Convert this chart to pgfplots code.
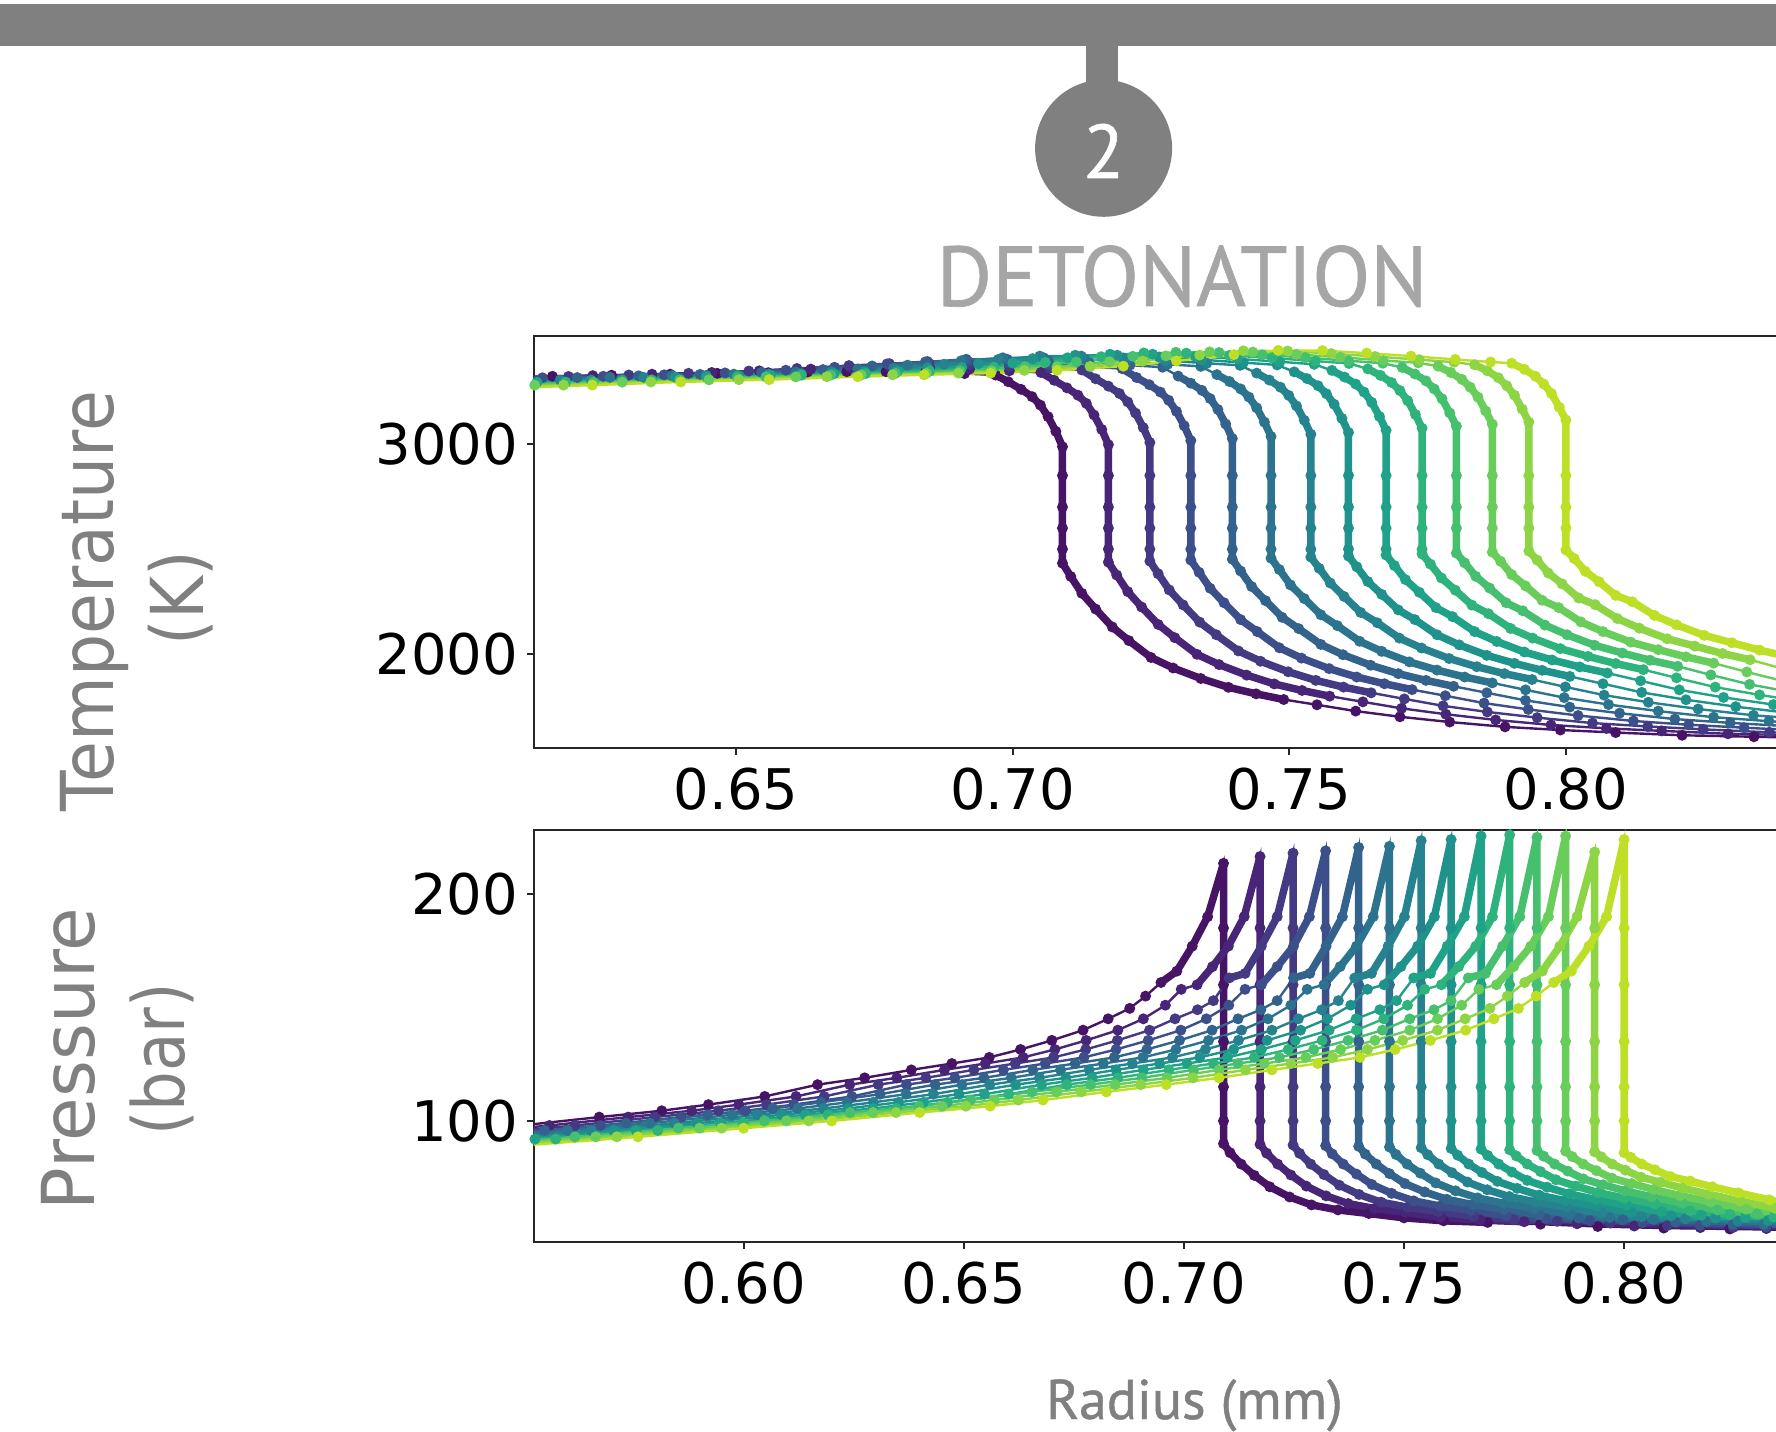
\documentclass[border=0pt]{standalone}
\usepackage{fontspec}
\setmainfont{DejaVu Sans}
\newfontfamily\din[FakeBold=0.8]{PT Sans}
\usepackage{pgfplots}
\usepackage{pgfplotstable}
\pgfplotsset{compat=1.18}
\definecolor{c0}{HTML}{471365}\definecolor{c1}{HTML}{482576}\definecolor{c2}{HTML}{443A83}\definecolor{c3}{HTML}{3C4F8A}
\definecolor{c4}{HTML}{33628D}\definecolor{c5}{HTML}{2C738E}\definecolor{c6}{HTML}{26828E}\definecolor{c7}{HTML}{20928C}
\definecolor{c8}{HTML}{1FA287}\definecolor{c9}{HTML}{2EB37C}\definecolor{c10}{HTML}{46C06F}\definecolor{c11}{HTML}{69CD5B}
\definecolor{c12}{HTML}{8DD544}\definecolor{c13}{HTML}{BDDF26}
\newcommand\rd[2]{\pgfplotstableread[row sep=\\]{x y\\#1}#2}
% Temperature
\rd{.6062 3316\\.6168 3322\\.6275 3327\\.6381 3332\\.6466 3336\\.6558 3339\\.6629 3342\\.67 3344\\.6771 3344\\.6842 3340\\.6913 3335\\.6969 3328\\.6992 3296\\.7015 3260\\.7035 3225\\.705 3185\\.7064 3130\\.7078 3060\\.709 2987\\.709 2850\\.709 2700\\.709 2600\\.709 2500\\.709 2433\\.7105 2370\\.7125 2290\\.715 2215\\.718 2130\\.721 2065\\.725 1985\\.729 1935\\.734 1885\\.739 1843\\.744 1812\\.749 1785\\.755 1760\\.762 1730\\.77 1703\\.779 1678\\.789 1655\\.799 1640\\.809 1628\\.821 1615\\.834 1608\\.841 1604\\}\Tz
\rd{.6025 3312\\.6133 3319\\.6241 3325\\.6348 3332\\.6456 3340\\.6542 3348\\.6635 3356\\.6707 3363\\.6778 3364\\.685 3362\\.6922 3356\\.6994 3348\\.7051 3340\\.7075 3303\\.7098 3267\\.7118 3232\\.7133 3193\\.7147 3138\\.7161 3069\\.7173 2997\\.7173 2850\\.7173 2700\\.7173 2600\\.7173 2500\\.7173 2438\\.7188 2377\\.7208 2298\\.7233 2225\\.7263 2142\\.7293 2079\\.7333 2000\\.7373 1951\\.7423 1901\\.7473 1859\\.7523 1828\\.7573 1801\\.7633 1774\\.7703 1743\\.7783 1715\\.7873 1688\\.7973 1664\\.8073 1648\\.8173 1636\\.8293 1622\\.8423 1615\\}\Ta
\rd{.5943 3301\\.6088 3314\\.6197 3321\\.6306 3328\\.6414 3336\\.6523 3347\\.661 3359\\.6704 3373\\.6777 3382\\.6849 3383\\.6922 3378\\.6994 3370\\.7067 3361\\.7125 3352\\.715 3310\\.7173 3275\\.7193 3240\\.7208 3200\\.7222 3147\\.7236 3078\\.7248 3007\\.7248 2850\\.7248 2700\\.7248 2600\\.7248 2500\\.7248 2443\\.7263 2383\\.7283 2306\\.7308 2235\\.7338 2153\\.7368 2093\\.7408 2016\\.7448 1967\\.7498 1917\\.7548 1876\\.7598 1844\\.7648 1817\\.7708 1788\\.7778 1755\\.7858 1726\\.7948 1699\\.8048 1673\\.8148 1657\\.8248 1643\\.8368 1629\\.8498 1621\\}\Tb
\rd{.6004 3302\\.615 3315\\.626 3322\\.637 3329\\.648 3338\\.659 3351\\.6678 3365\\.6773 3381\\.6846 3392\\.6919 3393\\.6993 3387\\.7066 3378\\.7139 3368\\.7198 3358\\.7224 3316\\.7247 3282\\.7267 3247\\.7282 3208\\.7296 3155\\.731 3087\\.7322 3016\\.7322 2850\\.7322 2700\\.7322 2600\\.7322 2500\\.7322 2448\\.7337 2390\\.7357 2314\\.7382 2245\\.7412 2165\\.7442 2108\\.7482 2031\\.7522 1982\\.7572 1932\\.7622 1892\\.7672 1860\\.7722 1832\\.7782 1803\\.7852 1768\\.7932 1738\\.8022 1709\\.8122 1683\\.8222 1665\\.8322 1651\\.8442 1636\\}\Tc
\rd{.6066 3303\\.6213 3316\\.6324 3324\\.6435 3331\\.6546 3341\\.6657 3354\\.6746 3371\\.6842 3390\\.6916 3403\\.699 3403\\.7064 3396\\.7138 3386\\.7212 3375\\.7271 3365\\.7299 3323\\.7322 3289\\.7342 3255\\.7357 3216\\.7371 3164\\.7385 3095\\.7397 3026\\.7397 2850\\.7397 2700\\.7397 2600\\.7397 2500\\.7397 2452\\.7412 2396\\.7432 2322\\.7457 2255\\.7487 2176\\.7517 2122\\.7557 2047\\.7597 1998\\.7647 1948\\.7697 1908\\.7747 1876\\.7797 1848\\.7857 1817\\.7927 1781\\.8007 1749\\.8097 1720\\.8197 1692\\.8297 1674\\.8397 1659\\}\Td
\rd{.6123 3303\\.6272 3317\\.6384 3325\\.6496 3332\\.6608 3342\\.672 3357\\.681 3375\\.6907 3396\\.6982 3410\\.7056 3410\\.7131 3402\\.7206 3391\\.728 3379\\.734 3369\\.7369 3330\\.7392 3297\\.7412 3262\\.7427 3223\\.7441 3172\\.7455 3104\\.7467 3036\\.7467 2850\\.7467 2700\\.7467 2600\\.7467 2500\\.7467 2457\\.7482 2403\\.7502 2330\\.7527 2265\\.7557 2188\\.7587 2136\\.7627 2062\\.7667 2014\\.7717 1964\\.7767 1925\\.7817 1892\\.7867 1864\\.7927 1831\\.7997 1794\\.8077 1761\\.8167 1730\\.8267 1701\\.8367 1682\\.8467 1667\\}\Te
\rd{.6031 3292\\.6182 3304\\.6333 3317\\.6446 3326\\.6559 3333\\.6672 3344\\.6785 3360\\.6876 3379\\.6974 3402\\.7049 3418\\.7124 3418\\.72 3409\\.7275 3397\\.7351 3384\\.7411 3374\\.7441 3337\\.7464 3304\\.7484 3270\\.7499 3231\\.7513 3181\\.7527 3113\\.7539 3046\\.7539 2850\\.7539 2700\\.7539 2600\\.7539 2500\\.7539 2462\\.7554 2409\\.7574 2339\\.7599 2275\\.7629 2199\\.7659 2150\\.7699 2077\\.7739 2030\\.7789 1980\\.7839 1941\\.7889 1908\\.7939 1880\\.7999 1845\\.8069 1806\\.8149 1772\\.8239 1740\\.8339 1710\\.8439 1691\\}\Tf
\rd{.6086 3293\\.6238 3304\\.639 3318\\.6504 3326\\.6618 3334\\.6732 3345\\.6846 3362\\.6938 3382\\.7036 3406\\.7113 3422\\.7189 3422\\.7265 3413\\.7341 3401\\.7417 3387\\.7478 3376\\.7509 3343\\.7532 3311\\.7552 3277\\.7567 3239\\.7581 3189\\.7595 3122\\.7607 3055\\.7607 2850\\.7607 2700\\.7607 2600\\.7607 2500\\.7607 2467\\.7622 2416\\.7642 2346\\.7667 2285\\.7697 2211\\.7727 2165\\.7767 2093\\.7807 2045\\.7857 1995\\.7907 1957\\.7957 1924\\.8007 1895\\.8067 1860\\.8137 1819\\.8217 1784\\.8307 1751\\.8407 1720\\}\Tg
\rd{.5987 3279\\.614 3293\\.6294 3305\\.6447 3318\\.6562 3327\\.6677 3334\\.6792 3346\\.6908 3364\\.7 3385\\.7099 3410\\.7176 3427\\.7253 3427\\.733 3417\\.7406 3405\\.7483 3391\\.7545 3379\\.7577 3350\\.76 3318\\.762 3285\\.7635 3247\\.7649 3198\\.7663 3131\\.7675 3065\\.7675 2850\\.7675 2700\\.7675 2600\\.7675 2500\\.7675 2472\\.769 2422\\.771 2355\\.7735 2295\\.7765 2222\\.7795 2179\\.7835 2108\\.7875 2061\\.7925 2011\\.7975 1973\\.8025 1940\\.8075 1911\\.8135 1874\\.8205 1831\\.8285 1795\\.8375 1761\\.8475 1729\\}\Th
\rd{.6037 3279\\.6192 3294\\.6347 3305\\.6502 3319\\.6618 3327\\.6734 3335\\.685 3347\\.6966 3365\\.7059 3388\\.716 3415\\.7237 3433\\.7314 3432\\.7392 3421\\.7469 3409\\.7547 3394\\.7608 3383\\.7642 3357\\.7665 3326\\.7685 3292\\.77 3254\\.7714 3206\\.7728 3140\\.774 3075\\.774 2850\\.774 2700\\.774 2600\\.774 2500\\.774 2477\\.7755 2429\\.7775 2363\\.78 2305\\.783 2234\\.786 2193\\.79 2123\\.794 2077\\.799 2027\\.804 1990\\.809 1956\\.814 1927\\.82 1888\\.827 1844\\.835 1807\\.844 1771\\}\Ti
\rd{.6086 3279\\.6242 3294\\.6398 3305\\.6554 3319\\.6671 3328\\.6788 3336\\.6905 3348\\.7022 3367\\.7115 3390\\.7217 3417\\.7295 3436\\.7373 3435\\.7451 3424\\.7529 3411\\.7607 3396\\.7669 3384\\.7704 3364\\.7727 3333\\.7747 3300\\.7762 3262\\.7776 3215\\.779 3148\\.7802 3085\\.7802 2850\\.7802 2700\\.7802 2600\\.7802 2481\\.7817 2435\\.7837 2371\\.7862 2315\\.7892 2245\\.7922 2207\\.7962 2139\\.8002 2093\\.8052 2043\\.8102 2006\\.8152 1972\\.8202 1943\\.8262 1902\\.8332 1857\\.8412 1818\\}\Tj
\rd{.5979 3265\\.6136 3280\\.6294 3294\\.6451 3305\\.6608 3319\\.6726 3328\\.6844 3336\\.6962 3348\\.708 3367\\.7175 3391\\.7277 3419\\.7356 3438\\.7434 3437\\.7513 3426\\.7592 3413\\.767 3397\\.7733 3386\\.7769 3370\\.7792 3340\\.7812 3307\\.7827 3270\\.7841 3223\\.7855 3157\\.7867 3094\\.7867 2850\\.7867 2700\\.7867 2600\\.7867 2486\\.7882 2442\\.7902 2379\\.7927 2325\\.7957 2257\\.7987 2222\\.8027 2154\\.8067 2108\\.8117 2058\\.8167 2022\\.8217 1988\\.8267 1958\\.8327 1916\\.8397 1870\\}\Tk
\rd{.6029 3265\\.6188 3280\\.6346 3295\\.6505 3306\\.6664 3320\\.6783 3329\\.6902 3337\\.7021 3350\\.714 3369\\.7235 3394\\.7338 3423\\.7417 3443\\.7497 3442\\.7576 3430\\.7655 3416\\.7735 3401\\.7798 3389\\.7835 3377\\.7858 3348\\.7878 3315\\.7893 3277\\.7907 3232\\.7921 3166\\.7933 3104\\.7933 2850\\.7933 2700\\.7933 2600\\.7933 2491\\.7948 2448\\.7968 2387\\.7993 2335\\.8023 2268\\.8053 2236\\.8093 2170\\.8133 2124\\.8183 2074\\.8233 2039\\.8283 2004\\.8333 1974\\.8393 1931\\}\Tl
\rd{.608 3265\\.624 3280\\.64 3295\\.656 3306\\.672 3320\\.684 3329\\.696 3337\\.708 3350\\.72 3370\\.7296 3395\\.74 3425\\.748 3445\\.756 3444\\.764 3432\\.772 3418\\.78 3402\\.7864 3390\\.7902 3384\\.7925 3355\\.7945 3322\\.796 3285\\.7974 3240\\.7988 3175\\.8 3114\\.8 2850\\.8 2700\\.8 2600\\.8 2496\\.8015 2455\\.8035 2395\\.806 2345\\.809 2280\\.812 2250\\.816 2185\\.82 2140\\.825 2090\\.83 2055\\.835 2020\\.84 1990\\}\Tm
% Pressure
\rd{.5495 98\\.5672 101.7\\.5814 104.5\\.592 107.2\\.6048 110.8\\.6168 116\\.6275 119\\.6381 122.5\\.6473 125.3\\.6558 128\\.6629 131.5\\.67 135.5\\.6771 140\\.6828 145\\.6877 149.6\\.6913 155\\.6948 161\\.6984 166\\.7019 177\\.7054 190\\.709 213.5\\.709 185\\.709 160\\.709 135\\.709 115\\.709 100\\.709 90\\.7105 86\\.713 81\\.716 76\\.7195 71\\.724 66.5\\.729 63\\.735 60.8\\.742 59.2\\.75 57.3\\.759 56\\.769 55.3\\.781 54.5\\.794 53.5\\.809 52.8\\.824 52.4\\.839 52\\}\Pz
\rd{.538 94.8\\.5559 98\\.5738 101.7\\.5882 104.5\\.5989 107.2\\.6119 110.8\\.6241 116\\.6348 119\\.6456 122.5\\.6549 125.3\\.6635 128\\.6707 131.5\\.6778 135.5\\.685 140\\.6908 145\\.6958 151\\.6994 158\\.703 160\\.7065 168\\.7101 177\\.7137 190\\.7173 216.5\\.7173 185\\.7173 160\\.7173 135\\.7173 115\\.7173 100\\.7173 89.7\\.7188 85.8\\.7213 81\\.7243 76.2\\.7278 71.3\\.7323 67\\.7373 63.6\\.7433 61.4\\.7503 59.7\\.7583 57.6\\.7673 56.3\\.7773 55.6\\.7893 54.7\\.8023 53.7\\.8173 53\\.8323 52.6\\.8473 52.2\\}\Pa
\rd{.5436 94.8\\.5617 98\\.5798 101.7\\.5943 104.5\\.6052 107.2\\.6183 110.8\\.6306 116\\.6414 119\\.6523 122.5\\.6617 125.3\\.6704 128\\.6777 131.5\\.6849 135.5\\.6922 140\\.698 145\\.7031 149\\.7067 153\\.7103 163\\.7139 165\\.7176 177\\.7212 190\\.7248 218\\.7248 185\\.7248 160\\.7248 135\\.7248 115\\.7248 100\\.7248 89.4\\.7263 85.7\\.7288 81\\.7318 76.4\\.7353 71.7\\.7398 67.6\\.7448 64.2\\.7508 62\\.7578 60.1\\.7658 58\\.7748 56.6\\.7848 55.8\\.7968 55\\.8098 53.9\\.8248 53.1\\.8398 52.7\\}\Pb
\rd{.5492 94.8\\.5675 98\\.5858 101.7\\.6004 104.5\\.6114 107.2\\.6246 110.8\\.637 116\\.648 119\\.659 122.5\\.6685 125.3\\.6773 128\\.6846 131.5\\.6919 135.5\\.6993 140\\.7051 145\\.7102 151\\.7139 158\\.7176 160\\.7212 168\\.7249 177\\.7285 190\\.7322 219\\.7322 185\\.7322 160\\.7322 135\\.7322 115\\.7322 100\\.7322 89.1\\.7337 85.5\\.7362 81\\.7392 76.6\\.7427 72\\.7472 68.1\\.7522 64.8\\.7582 62.5\\.7652 60.6\\.7732 58.3\\.7822 56.9\\.7922 56.1\\.8042 55.2\\.8172 54.1\\.8322 53.3\\.8472 52.9\\}\Pc
\rd{.5326 92\\.5548 95.8\\.5733 99\\.5918 102.7\\.6066 105.5\\.6176 108.2\\.631 111.8\\.6435 116\\.6546 119\\.6657 122.5\\.6753 125.3\\.6842 128\\.6916 131.5\\.699 135.5\\.7064 140\\.7123 145\\.7175 149\\.7212 153\\.7249 163\\.7286 165\\.7323 177\\.736 190\\.7397 220.5\\.7397 185\\.7397 160\\.7397 135\\.7397 115\\.7397 100\\.7397 88.8\\.7412 85.4\\.7437 81\\.7467 76.8\\.7502 72.4\\.7547 68.7\\.7597 65.5\\.7657 63.1\\.7727 61\\.7807 58.7\\.7897 57.2\\.7997 56.4\\.8117 55.4\\.8247 54.3\\.8397 53.4\\}\Pd
\rd{.5376 92\\.56 95.8\\.5787 99\\.5974 102.7\\.6123 105.5\\.6235 108.2\\.6369 111.8\\.6496 116\\.6608 119\\.672 122.5\\.6817 125.3\\.6907 128\\.6982 131.5\\.7056 135.5\\.7131 140\\.7191 145\\.7243 151\\.728 158\\.7318 160\\.7355 168\\.7392 177\\.743 190\\.7467 221\\.7467 185\\.7467 160\\.7467 135\\.7467 115\\.7467 100\\.7467 88.5\\.7482 85.2\\.7507 81\\.7537 77\\.7572 72.7\\.7617 69.2\\.7667 66.1\\.7727 63.7\\.7797 61.5\\.7877 59\\.7967 57.5\\.8067 56.6\\.8187 55.7\\.8317 54.5\\.8467 53.6\\}\Pe
\rd{.5428 92\\.5654 95.8\\.5843 99\\.6031 102.7\\.6182 105.5\\.6295 108.2\\.6431 111.8\\.6559 116\\.6672 119\\.6785 122.5\\.6883 125.3\\.6974 128\\.7049 131.5\\.7124 135.5\\.72 140\\.726 145\\.7313 149\\.7351 153\\.7388 163\\.7426 165\\.7464 177\\.7501 190\\.7539 223.5\\.7539 185\\.7539 160\\.7539 135\\.7539 115\\.7539 100\\.7539 88.2\\.7554 85.1\\.7579 81\\.7609 77.2\\.7644 73.1\\.7689 69.7\\.7739 66.7\\.7799 64.3\\.7869 62\\.7949 59.4\\.8039 57.8\\.8139 56.9\\.8259 55.9\\.8389 54.7\\}\Pf
\rd{.5477 92\\.5705 95.8\\.5895 99\\.6086 102.7\\.6238 105.5\\.6352 108.2\\.6489 111.8\\.6618 116\\.6732 119\\.6846 122.5\\.6945 125.3\\.7036 128\\.7113 131.5\\.7189 135.5\\.7265 140\\.7326 145\\.7379 151\\.7417 158\\.7455 160\\.7493 168\\.7531 177\\.7569 190\\.7607 224\\.7607 185\\.7607 160\\.7607 135\\.7607 115\\.7607 100\\.7607 87.9\\.7622 84.9\\.7647 81\\.7677 77.3\\.7712 73.4\\.7757 70.3\\.7807 67.3\\.7867 64.8\\.7937 62.4\\.8017 59.7\\.8107 58.2\\.8207 57.2\\.8327 56.1\\.8457 54.8\\}\Pg
\rd{.5296 88.5\\.5526 92\\.5756 95.8\\.5948 99\\.614 102.7\\.6294 105.5\\.6409 108.2\\.6547 111.8\\.6677 116\\.6792 119\\.6908 122.5\\.7007 125.3\\.7099 128\\.7176 131.5\\.7253 135.5\\.733 140\\.7391 145\\.7445 149\\.7483 153\\.7522 163\\.756 165\\.7598 177\\.7637 190\\.7675 225.5\\.7675 185\\.7675 160\\.7675 135\\.7675 115\\.7675 100\\.7675 87.6\\.769 84.8\\.7715 81\\.7745 77.5\\.778 73.8\\.7825 70.8\\.7875 67.9\\.7935 65.4\\.8005 62.9\\.8085 60.1\\.8175 58.5\\.8275 57.5\\.8395 56.3\\}\Ph
\rd{.5341 88.5\\.5573 92\\.5805 95.8\\.5999 99\\.6192 102.7\\.6347 105.5\\.6463 108.2\\.6602 111.8\\.6734 116\\.685 119\\.6966 122.5\\.7067 125.3\\.716 128\\.7237 131.5\\.7314 135.5\\.7392 140\\.7454 145\\.7508 151\\.7547 158\\.7585 160\\.7624 168\\.7663 177\\.7701 190\\.774 226\\.774 185\\.774 160\\.774 135\\.774 115\\.774 100\\.774 87.3\\.7755 84.6\\.778 81\\.781 77.7\\.7845 74.1\\.789 71.3\\.794 68.5\\.8 66\\.807 63.4\\.815 60.4\\.824 58.8\\.834 57.7\\.846 56.6\\}\Pii
\rd{.5383 89.5\\.5617 93\\.5852 96.8\\.6047 100\\.6242 103.7\\.6398 106.5\\.6515 109.2\\.6655 112.8\\.6788 116\\.6905 119\\.7022 122.5\\.7123 125.3\\.7217 128\\.7295 131.5\\.7373 135.5\\.7451 140\\.7513 145\\.7568 149\\.7607 153\\.7646 163\\.7685 165\\.7724 177\\.7763 190\\.7802 225\\.7802 185\\.7802 160\\.7802 135\\.7802 115\\.7802 100\\.7802 87\\.7817 84.5\\.7842 81\\.7872 77.9\\.7907 74.5\\.7952 71.9\\.8002 69.2\\.8062 66.6\\.8132 63.8\\.8212 60.8\\.8302 59.1\\.8402 58\\}\Pj
\rd{.5428 89.5\\.5664 93\\.59 96.8\\.6097 100\\.6294 103.7\\.6451 106.5\\.6569 109.2\\.6711 112.8\\.6844 116\\.6962 119\\.708 122.5\\.7183 125.3\\.7277 128\\.7356 131.5\\.7434 135.5\\.7513 140\\.7576 145\\.7631 151\\.767 158\\.771 160\\.7749 168\\.7788 177\\.7828 190\\.7867 225.5\\.7867 185\\.7867 160\\.7867 135\\.7867 115\\.7867 100\\.7867 86.7\\.7882 84.3\\.7907 81\\.7937 78.1\\.7972 74.8\\.8017 72.4\\.8067 69.8\\.8127 67.1\\.8197 64.3\\.8277 61.1\\.8367 59.4\\}\Pk
\rd{.5474 89.5\\.5712 93\\.595 96.8\\.6148 100\\.6346 103.7\\.6505 106.5\\.6624 109.2\\.6767 112.8\\.6902 116\\.7021 119\\.714 122.5\\.7243 125.3\\.7338 128\\.7417 131.5\\.7497 135.5\\.7576 140\\.7639 145\\.7695 149.6\\.7735 155\\.7774 161\\.7814 166\\.7854 177\\.7893 190\\.7933 218.5\\.7933 185\\.7933 160\\.7933 135\\.7933 115\\.7933 100\\.7933 86.4\\.7948 84.2\\.7973 81\\.8003 78.3\\.8038 75.2\\.8083 73\\.8133 70.4\\.8193 67.7\\.8263 64.7\\.8343 61.5\\.8433 59.7\\}\Pl
\rd{.552 89.5\\.576 93\\.6 96.8\\.62 100\\.64 103.7\\.656 106.5\\.668 109.2\\.6824 112.8\\.696 116\\.708 119\\.72 122.5\\.7304 125.3\\.74 128\\.748 131.5\\.756 135.5\\.764 140\\.7704 145\\.776 149.6\\.78 155\\.784 161\\.788 166\\.792 177\\.796 190\\.8 224\\.8 185\\.8 160\\.8 135\\.8 115\\.8 100\\.8 86\\.8015 84\\.804 81\\.807 78.5\\.8105 75.5\\.815 73.5\\.82 71\\.826 68.3\\.833 65.2\\.841 61.8\\}\Pm
\newcommand\ser[4]{%
 \addplot[color=#2,line width=2.4pt,mark=*,mark size=4.2pt,mark options={draw=none,fill=#2}] table {#1};
 \addplot[color=#2,line width=7.5pt,line join=round,no marks,restrict x to domain=#3:#4] table {#1};}
\pgfplotsset{panel/.style={scale only axis,anchor=south west,axis line style={line width=2pt,color=black!85},
 tick style={line width=2pt,color=black!85},major tick length=7pt,tick align=outside,xtick pos=bottom,ytick pos=left,
 tick label style={font=\fontsize{56}{60}\selectfont,/pgf/number format/assume math mode=true},
 x tick label style={/pgf/number format/.cd,fixed,fixed zerofill,precision=2,assume math mode=true,/tikz/.cd,yshift=-10pt},
 y tick label style={/pgf/number format/.cd,fixed,1000 sep={},assume math mode=true,/tikz/.cd,xshift=-5pt},
 scaled x ticks=false,scaled y ticks=false,clip=true}}
\begin{document}
\begin{tikzpicture}[x=1pt,y=1pt]
\useasboundingbox (0,0) rectangle (1776,1431);
\clip (0,0) rectangle (1776,1431);
\fill[color=white] (0,0) rectangle (1776,1431);
\definecolor{bargray}{HTML}{808080}
\fill[bargray] (0,1385) rectangle (1776,1427);
\fill[bargray] (1085.7,1390) rectangle (1117.5,1340);
\fill[bargray] (1103.6,1282.7) circle (68.5);
\node[anchor=base,text=white,inner sep=0pt,font=\din\fontsize{76}{80}\selectfont] at (1103.6,1253) {2};
\node[anchor=base,text=black!35,inner sep=0pt,font=\din\fontsize{85}{90}\selectfont] at (1182,1125) {DETONATION};
\node[anchor=base,text=bargray,inner sep=0pt,font=\din\fontsize{56}{60}\selectfont] at (1194.5,12) {Radius (mm)};
\node[rotate=90,anchor=base,text=bargray,inner sep=0pt,font=\fontsize{73}{78}\selectfont] at (113.6,829.5) {\scalebox{.91}[1]{Temperature}};
\node[rotate=90,anchor=base,text=bargray,inner sep=0pt,font=\fontsize{73}{78}\selectfont] at (203,833) {\scalebox{.9}[1]{(K)}};
\node[rotate=90,anchor=base,text=bargray,inner sep=0pt,font=\fontsize{73}{78}\selectfont] at (94,372) {\scalebox{.97}[1]{Pressure}};
\node[rotate=90,anchor=base,text=bargray,inner sep=0pt,font=\fontsize{72}{78}\selectfont] at (184,371.5) {\scalebox{.87}[1]{(bar)}};
\begin{axis}[panel,at={(533.6pt,683.3pt)},width=1308.9pt,height=411.7pt,xmin=0.6134,xmax=0.85,ymin=1556,ymax=3513.6,xtick={0.65,0.70,0.75,0.80},ytick={2000,3000}]
\ser{\Tz}{c0}{.6965}{.751}\ser{\Ta}{c1}{.7048}{.7593}\ser{\Tb}{c2}{.7123}{.7668}\ser{\Tc}{c3}{.7197}{.7742}
\ser{\Td}{c4}{.7272}{.7817}\ser{\Te}{c5}{.7342}{.7887}\ser{\Tf}{c6}{.7414}{.7959}\ser{\Tg}{c7}{.7482}{.8027}
\ser{\Th}{c8}{.755}{.8095}\ser{\Ti}{c9}{.7615}{.816}\ser{\Tj}{c10}{.7677}{.8222}\ser{\Tk}{c11}{.7742}{.8287}
\ser{\Tl}{c12}{.7808}{.8353}\ser{\Tm}{c13}{.7875}{.842}
\end{axis}
\begin{axis}[panel,at={(533.6pt,189.3pt)},width=1308.9pt,height=411.7pt,xmin=0.5523,xmax=0.8496,ymin=46.8,ymax=228.2,xtick={0.60,0.65,0.70,0.75,0.80},ytick={100,200}]
\ser{\Pz}{c0}{.692}{.769}\ser{\Pa}{c1}{.7}{.7773}\ser{\Pb}{c2}{.7074}{.7848}\ser{\Pc}{c3}{.7146}{.7922}
\ser{\Pd}{c4}{.7219}{.7997}\ser{\Pe}{c5}{.7288}{.8067}\ser{\Pf}{c6}{.7358}{.8139}\ser{\Pg}{c7}{.7424}{.8207}
\ser{\Ph}{c8}{.7491}{.8275}\ser{\Pii}{c9}{.7554}{.834}\ser{\Pj}{c10}{.7615}{.8402}\ser{\Pk}{c11}{.7678}{.8467}
\ser{\Pl}{c12}{.7743}{.8533}\ser{\Pm}{c13}{.7808}{.86}
\end{axis}
\end{tikzpicture}
\end{document}
